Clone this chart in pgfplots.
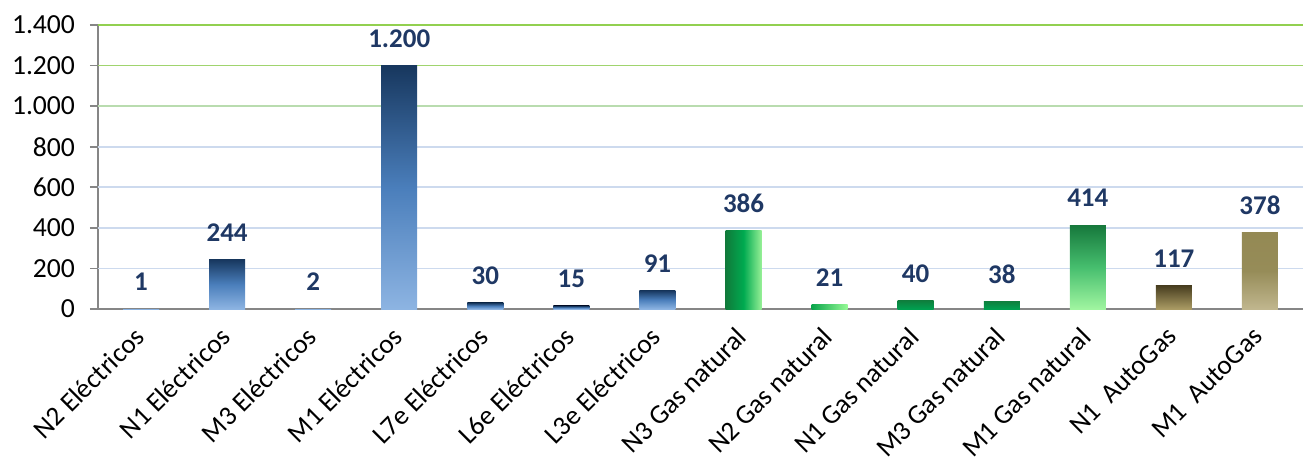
\documentclass[border=0pt]{standalone}
\usepackage{pgfplots}
\pgfplotsset{compat=1.18}
\usepackage{fontspec}
\setmainfont{Carlito}
\definecolor{lab}{RGB}{31,56,100}
\definecolor{axgray}{RGB}{134,134,134}
\definecolor{gblue}{RGB}{205,218,238}
\definecolor{ggreenA}{RGB}{146,208,80}
\definecolor{ggreenB}{RGB}{160,212,110}
\definecolor{ggreenC}{RGB}{185,220,175}
\definecolor{elTop}{RGB}{23,55,94}
\definecolor{elMid}{RGB}{74,126,187}
\definecolor{elBot}{RGB}{141,180,226}
\begin{document}
\begin{tikzpicture}
\begin{axis}[
  scale only axis,
  width=602.5pt, height=142pt,
  xmin=-0.5, xmax=13.5, ymin=0, ymax=1400,
  axis lines*=left,
  axis line style={axgray, line width=0.8pt},
  tick align=outside,
  ytick={0,200,...,1400},
  ytick style={axgray, line width=0.8pt},
  major tick length=4pt,
  xtick={0,...,13},
  xtick style={draw=none},
  minor xtick={-0.5,0.5,...,13.5},
  minor tick length=4pt,
  minor x tick style={axgray, line width=0.8pt},
  xticklabels={N2 Eléctricos,N1 Eléctricos,M3 Eléctricos,M1 Eléctricos,L7e Eléctricos,L6e Eléctricos,L3e Eléctricos,N3 Gas natural,N2 Gas natural,N1 Gas natural,M3 Gas natural,M1 Gas natural,N1\ \ AutoGas,M1\ \ AutoGas},
  xticklabel style={xshift=-4.3pt, yshift=-4.1pt, rotate=45, anchor=north east, font=\fontsize{13.6}{15}\selectfont, inner sep=0pt},
  yticklabel style={font=\fontsize{13.8}{15}\selectfont, xshift=-4pt},
  /pgf/number format/.cd, 1000 sep={.}, assume math mode=true,
  /pgfplots/.cd,
  clip=false,
  mybar/.style={ybar, bar width=18pt, bar shift=0pt, draw=none,
    nodes near coords,
    every node near coord/.append style={font=\fontsize{13.5}{15}\selectfont\bfseries, text=lab, yshift=5.5pt}},
]
\draw[gblue, line width=0.8pt] (axis cs:-0.5,200) -- (axis cs:13.5,200);
\draw[gblue, line width=0.8pt] (axis cs:-0.5,400) -- (axis cs:13.5,400);
\draw[gblue, line width=0.8pt] (axis cs:-0.5,600) -- (axis cs:13.5,600);
\draw[gblue, line width=0.8pt] (axis cs:-0.5,800) -- (axis cs:13.5,800);
\draw[ggreenC, line width=0.8pt] (axis cs:-0.5,1000) -- (axis cs:13.5,1000);
\draw[ggreenB, line width=0.8pt] (axis cs:-0.5,1200) -- (axis cs:13.5,1200);
\draw[ggreenA, line width=0.8pt] (axis cs:-0.5,1400) -- (axis cs:13.5,1400);
% Electricos
\addplot[mybar, top color=elTop, bottom color=elBot, middle color=elMid] coordinates {(0,1)};
\addplot[mybar, top color=elTop, bottom color=elBot, middle color=elMid] coordinates {(1,244)};
\addplot[mybar, top color=elTop, bottom color=elBot, middle color=elMid] coordinates {(2,2)};
\addplot[mybar, top color=elTop, bottom color=elBot, middle color=elMid] coordinates {(3,1200)};
\addplot[mybar, top color=elTop, bottom color=elBot, middle color=elMid] coordinates {(4,30)};
\addplot[mybar, top color=elTop, bottom color=elBot, middle color=elMid] coordinates {(5,15)};
\addplot[mybar, top color=elTop, bottom color=elBot, middle color=elMid] coordinates {(6,91)};
% Gas natural
\addplot[mybar, left color={rgb,255:red,16;green,122;blue,58}, right color={rgb,255:red,150;green,240;blue,150}, middle color={rgb,255:red,0;green,170;blue,80}] coordinates {(7,386)};
\addplot[mybar, left color={rgb,255:red,10;green,165;blue,75}, right color={rgb,255:red,150;green,250;blue,150}] coordinates {(8,21)};
\addplot[mybar, top color={rgb,255:red,14;green,128;blue,62}, bottom color={rgb,255:red,0;green,160;blue,80}] coordinates {(9,40)};
\addplot[mybar, top color={rgb,255:red,14;green,128;blue,62}, bottom color={rgb,255:red,0;green,160;blue,80}] coordinates {(10,38)};
\addplot[mybar, top color={rgb,255:red,22;green,120;blue,60}, bottom color={rgb,255:red,160;green,245;blue,160}, middle color={rgb,255:red,70;green,190;blue,110}] coordinates {(11,414)};
% AutoGas
\addplot[mybar, top color={rgb,255:red,70;green,60;blue,30}, bottom color={rgb,255:red,170;green,155;blue,100}] coordinates {(12,117)};
\addplot[mybar, top color={rgb,255:red,148;green,137;blue,84}, bottom color={rgb,255:red,192;green,182;blue,142}, middle color={rgb,255:red,150;green,140;blue,88}] coordinates {(13,378)};
\end{axis}
\pgfresetboundingbox
\path[use as bounding box] (-49pt,-74pt) rectangle (602.5pt,154.5pt);
\end{tikzpicture}
\end{document}
